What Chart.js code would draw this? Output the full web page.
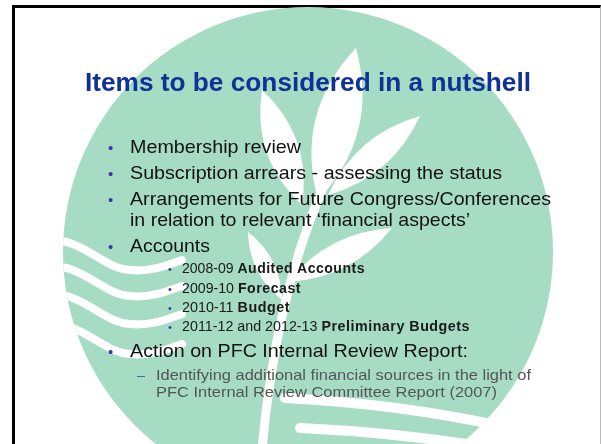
<!DOCTYPE html>
<html>
<head>
<meta charset="utf-8">
<script src="https://cdn.jsdelivr.net/npm/chart.js@4/dist/chart.umd.min.js"></script>
<style>
  html, body { margin: 0; padding: 0; background: #fff; }
  body { width: 601px; height: 444px; overflow: hidden; position: relative; font-family: "Liberation Sans", Arial, sans-serif; }
  #slide { position: absolute; left: 12px; top: 5px; width: 585px; height: 436px; border-top: 3px solid #000; border-left: 3px solid #000; border-right: 1px solid #bbb; border-bottom: 1px solid #ccc; }
  #logo { position: absolute; left: 63px; top: 7px; width: 490px; height: 490px; }
  .ln { position: absolute; white-space: nowrap; line-height: 1; transform-origin: 0 0; }
</style>
</head>
<body>
<div id="slide"></div>
<div id="logo"><canvas id="chart"></canvas></div>
<div id="text"></div>
<script>
'use strict';

// slide content
var titleText = 'Items to be considered in a nutshell'
var bulletItems = [
    'Membership review',
    'Subscription arrears - assessing the status',
    'Arrangements for Future Congress/Conferences',
    'in relation to relevant \u2018financial aspects\u2019',
    'Accounts'
]
var accountYears = ['2008-09', '2009-10', '2010-11', '2011-12 and 2012-13']
var accountItems = ['Audited Accounts', 'Forecast', 'Budget', 'Preliminary Budgets']
var actionItem = 'Action on PFC Internal Review Report:'
var actionNotes = [
    'Identifying additional financial sources in the light of',
    'PFC Internal Review Committee Report (2007)'
]

// background logo disc
var logoLabels = ['logo']
var logoValues = [1]

// page offset of the logo canvas
var OFF_X = 63, OFF_Y = 7

function leaf(ctx, bx, by, tx, ty, w) {
    let mx = (bx + tx) / 2, my = (by + ty) / 2
    let dx = tx - bx, dy = ty - by
    let len = Math.sqrt(dx * dx + dy * dy)
    let nx = -dy / len * w, ny = dx / len * w
    ctx.beginPath()
    ctx.moveTo(bx, by)
    ctx.quadraticCurveTo(mx + nx, my + ny, tx, ty)
    ctx.quadraticCurveTo(mx - nx, my - ny, bx, by)
    ctx.fill()
}

var logoArt = {
    id: 'logoArt',
    afterDatasetsDraw(chart) {
        let arc = chart.getDatasetMeta(0).data[0]
        let ctx = chart.ctx
        ctx.save()
        ctx.beginPath()
        ctx.arc(arc.x, arc.y, arc.outerRadius, 0, Math.PI * 2)
        ctx.clip()
        ctx.translate(-OFF_X, -OFF_Y)
        ctx.fillStyle = '#fff'
        ctx.strokeStyle = '#fff'
        ctx.lineCap = 'round'

        // stem
        ctx.lineWidth = 9
        ctx.beginPath()
        ctx.moveTo(262, 450)
        ctx.quadraticCurveTo(275, 300, 322, 190)
        ctx.stroke()

        // leaves
        leaf(ctx, 318, 200, 356, 48, 44)
        leaf(ctx, 302, 205, 262, 90, -32)
        leaf(ctx, 328, 195, 420, 116, -28)
        leaf(ctx, 288, 282, 392, 228, -26)
        leaf(ctx, 282, 300, 248, 232, 18)

        // waves on the left
        ctx.lineWidth = 8
        let waves = [240, 266, 294, 324]
        for (let i = 0; i < waves.length; i++) {
            let y = waves[i]
            ctx.beginPath()
            ctx.moveTo(45, y + 2)
            ctx.bezierCurveTo(80, y - 6, 100, y + 28, 130, y + 30)
            ctx.bezierCurveTo(150, y + 32, 165, y + 26, 182, y + 20)
            ctx.stroke()
        }

        // streaks at the bottom
        ctx.lineWidth = 10
        ctx.beginPath()
        ctx.moveTo(285, 398)
        ctx.quadraticCurveTo(400, 404, 500, 426)
        ctx.stroke()
        ctx.beginPath()
        ctx.moveTo(300, 428)
        ctx.quadraticCurveTo(390, 432, 480, 446)
        ctx.stroke()
        ctx.restore()
    }
}

new Chart(document.getElementById('chart'), {
    type: 'pie',
    data: {
        labels: logoLabels,
        datasets: [{
            data: logoValues,
            backgroundColor: ['#a6dcc4'],
            borderWidth: 0
        }]
    },
    options: {
        responsive: true,
        maintainAspectRatio: false,
        animation: false,
        layout: { padding: 0 },
        plugins: { legend: { display: false }, tooltip: { enabled: false } }
    },
    plugins: [logoArt]
})

// text lines: html, left x, baseline y, font size, right x, colour
var textLayer = document.getElementById('text')

function addLine(html, x, base, size, right, color, weight) {
    let el = document.createElement('div')
    el.className = 'ln'
    el.innerHTML = html
    el.style.fontSize = size + 'px'
    el.style.color = color
    el.style.fontWeight = weight || 'normal'
    el.style.left = x + 'px'
    el.style.top = (base - 0.8465 * size) + 'px'
    textLayer.appendChild(el)
    if (right) {
        let w = el.getBoundingClientRect().width
        el.style.transform = 'scaleX(' + ((right - x) / w) + ')'
    }
    return el
}

function bullet(x, base, size, color) {
    addLine('\u2022', x, base, size, null, color)
}

addLine(titleText, 85, 91, 26, 531, '#0f3296', 'bold')

var mainBase = [153, 179, 205, 226, 252]
var mainRight = [301, 502, 551, 470, 210]
for (let i = 0; i < bulletItems.length; i++) {
    if (i != 3) bullet(108, mainBase[i], 15, '#3838a8')
    addLine(bulletItems[i], 130, mainBase[i], 19, mainRight[i], '#111')
}

var subBase = [273, 293, 312, 331]
var subRight = [365, 301, 290, 470]
for (let i = 0; i < accountYears.length; i++) {
    bullet(168, subBase[i], 11, '#3838a8')
    addLine(accountYears[i] + ' <b style="letter-spacing:0.5px">' + accountItems[i] + '</b>', 182, subBase[i], 14, subRight[i], '#1a1a1a')
}

bullet(108, 357, 15, '#3838a8')
addLine(actionItem, 130, 357, 19, 468, '#111')

addLine('\u2013', 137, 380, 15, 145, '#5060a8')
var noteBase = [380, 397]
var noteRight = [531, 497]
for (let i = 0; i < actionNotes.length; i++) {
    addLine(actionNotes[i], 156, noteBase[i], 15, noteRight[i], '#555')
}
</script>
</body>
</html>
